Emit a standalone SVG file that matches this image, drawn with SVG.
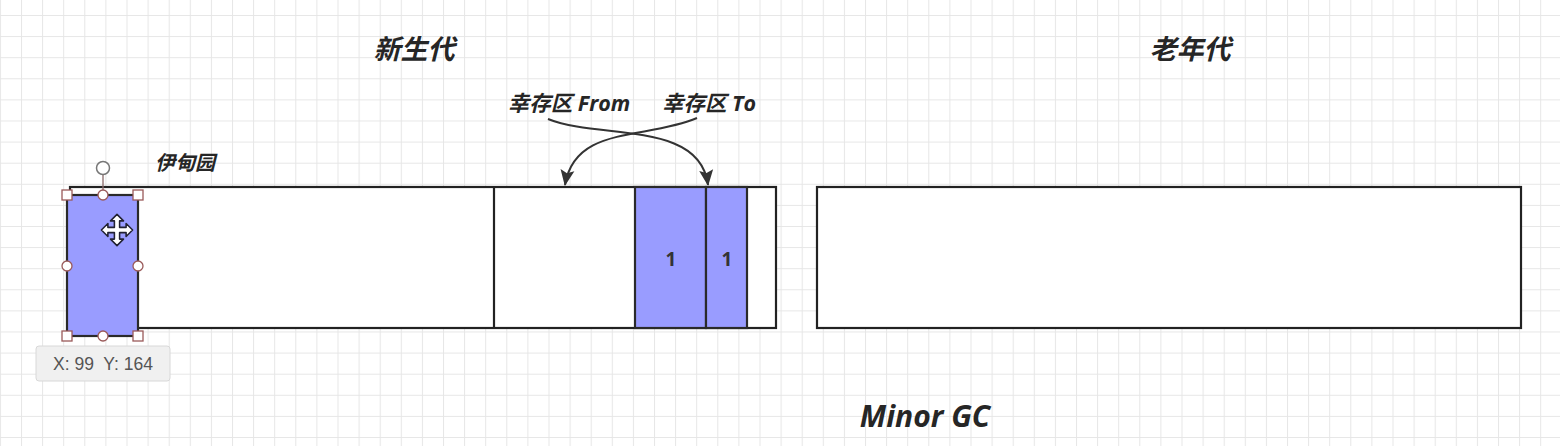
<svg xmlns="http://www.w3.org/2000/svg" width="1560" height="446" viewBox="0 0 1560 446">
<defs>
<pattern id="grid" x="-0.1" y="-6.1" width="21.1" height="21.1" patternUnits="userSpaceOnUse">
<path d="M0,0.5 H21.1 M0.5,0 V21.1" fill="none" stroke="#e6e6e6" stroke-width="1"/>
</pattern>
<marker id="arr" viewBox="0 0 16 16" refX="15" refY="8" markerWidth="16" markerHeight="16" markerUnits="userSpaceOnUse" orient="auto">
<path d="M0,1 L16,8 L0,15 L3,8 Z" fill="#333"/>
</marker>
<style>
.box{fill:#fff;stroke:#222;stroke-width:2.2}
.blue{fill:#999cff;stroke:#2a2a2a;stroke-width:2.2}
.t{font-family:"Open Sans","Noto Sans CJK SC",sans-serif;font-weight:bold;font-style:italic;fill:#262626}
.num{font-family:"Open Sans",sans-serif;font-weight:bold;font-size:19px;fill:#333;text-anchor:middle}
.conn{fill:none;stroke:#333;stroke-width:2}
.hsq{fill:#fff;stroke:#9a5a5a;stroke-width:1.3}
</style>
</defs>
<rect width="1560" height="446" fill="#fff"/>
<rect width="1560" height="446" fill="url(#grid)"/>

<g id="young-gen">
<rect class="box" x="70" y="187" width="706" height="141"/>
<line x1="494" y1="187" x2="494" y2="328" stroke="#222" stroke-width="2.2"/>
</g>
<g id="survivor-from">
<rect class="blue" x="635" y="187" width="71" height="141"/>
<text class="num" x="671" y="266">1</text>
</g>
<g id="survivor-to">
<rect class="blue" x="706" y="187" width="41" height="141"/>
<text class="num" x="727" y="266">1</text>
</g>
<g id="old-gen">
<rect class="box" x="817" y="187" width="704" height="141"/>
</g>
<g id="eden-object">
<rect class="blue" x="67" y="195" width="71" height="141"/>
</g>

<g id="labels">
<text class="t" x="414" y="59" font-size="27" text-anchor="middle">新生代</text>
<text class="t" x="1190" y="59" font-size="27" text-anchor="middle">老年代</text>
<text class="t" x="569" y="111" font-size="21.5" text-anchor="middle">幸存区 From</text>
<text class="t" x="709" y="111" font-size="21.5" text-anchor="middle">幸存区 To</text>
<text class="t" x="185" y="170" font-size="20" text-anchor="middle">伊甸园</text>
<text class="t" x="925" y="427" font-size="30" text-anchor="middle">Minor GC</text>
</g>

<g id="connectors">
<path class="conn" d="M548,119 C600,140 700,120 708,185" marker-end="url(#arr)"/>
<path class="conn" d="M697,118 C645,140 575,125 565,185" marker-end="url(#arr)"/>
</g>

<g id="selection">
<line x1="103" y1="175" x2="103" y2="195" stroke="#8a6a6a" stroke-width="1.3"/>
<circle cx="103" cy="168" r="6.5" fill="#fff" stroke="#777" stroke-width="1.5"/>
<rect class="hsq" x="62" y="190" width="10" height="10"/>
<rect class="hsq" x="133" y="190" width="10" height="10"/>
<rect class="hsq" x="62" y="331" width="10" height="10"/>
<rect class="hsq" x="133" y="331" width="10" height="10"/>
<circle class="hsq" cx="103" cy="195" r="5"/>
<circle class="hsq" cx="103" cy="336" r="5"/>
<circle class="hsq" cx="67" cy="266" r="5"/>
<circle class="hsq" cx="138" cy="266" r="5"/>
<path transform="translate(117,230) scale(1.3) translate(-117,-230)" d="M117,218 l5,5 h-3 v5 h5 v-3 l5,5 l-5,5 v-3 h-5 v5 h3 l-5,5 l-5,-5 h3 v-5 h-5 v3 l-5,-5 l5,-5 v3 h5 v-5 h-3 z" fill="#fff" stroke="#223" stroke-width="1.2" stroke-linejoin="round"/>
</g>

<g id="tooltip">
<rect x="36" y="346" width="134" height="35" rx="3" fill="#f0f0f0" stroke="#d8d8d8"/>
<text x="103" y="370" font-family="'Liberation Sans',Arial,sans-serif" font-size="17.5" fill="#555" text-anchor="middle" xml:space="preserve">X: 99  Y: 164</text>
</g>
</svg>
